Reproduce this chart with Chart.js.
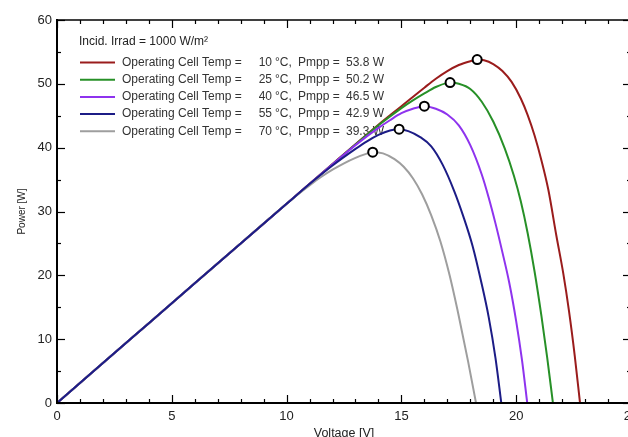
<!DOCTYPE html>
<html><head><meta charset="utf-8">
<script src="https://cdn.jsdelivr.net/npm/chart.js@4.4.1/dist/chart.umd.min.js"></script>
<style>
html,body{margin:0;padding:0;overflow:hidden;background:#fff;width:628px;height:437px}
#wrap{position:absolute;left:0;top:0;width:660px;height:437px}
</style>
</head><body><div id="wrap"><canvas id="c" width="660" height="437"></canvas></div>
<script>
const irradTitle = 'Incid. Irrad = 1000 W/m²';
const legendPrefix = 'Operating Cell Temp =';
const temps = [10, 25, 40, 55, 70];
const pmpp = [53.8, 50.2, 46.5, 42.9, 39.3];
const vmpp = [18.3, 17.12, 16.0, 14.9, 13.75];
const colors = ['#9a1c1c', '#279027', '#8e33ee', '#1c1c86', '#9e9e9e'];

const volt10 = [0, 2, 4, 6, 8, 10, 12, 14, 15, 16, 16.5, 17, 17.5, 18, 18.3, 18.6, 19.0, 19.4, 19.8, 20.2, 20.5, 20.8, 21.1, 21.4, 21.75, 22.05, 22.3, 22.55, 22.78];
const power10 = [0, 6.25, 12.5, 18.75, 25.0, 31.2, 37.45, 43.6, 46.5, 49.4, 50.8, 52.0, 52.95, 53.55, 53.8, 53.7, 53.1, 52.0, 50.3, 47.7, 45.1, 41.9, 38.0, 33.4, 26.2, 20.3, 14.4, 7.4, 0];

const volt25 = [0, 2, 4, 6, 8, 10, 12, 13, 14, 15, 15.5, 16, 16.5, 17, 17.12, 17.5, 18, 18.5, 19, 19.5, 19.9, 20.2, 20.5, 20.8, 21.1, 21.35, 21.6];
const power25 = [0, 6.25, 12.5, 18.75, 25.0, 31.2, 37.4, 40.5, 43.5, 46.2, 47.4, 48.5, 49.5, 50.15, 50.2, 50.0, 49.2, 47.2, 44.1, 39.9, 35.6, 31.6, 26.6, 20.6, 13.6, 7.1, 0];

const volt40 = [0, 2, 4, 6, 8, 10, 12, 13, 14, 14.5, 15, 15.5, 16, 16.5, 17, 17.5, 18, 18.5, 18.8, 19.1, 19.4, 19.7, 20.0, 20.25, 20.48];
const power40 = [0, 6.25, 12.5, 18.75, 25.0, 31.2, 37.4, 40.4, 43.1, 44.3, 45.4, 46.1, 46.5, 46.1, 45.2, 43.5, 40.4, 35.8, 32.2, 28.1, 23.6, 18.8, 12.8, 6.8, 0];

const volt55 = [0, 2, 4, 6, 8, 10, 11, 12, 13, 13.5, 14, 14.5, 14.9, 15.3, 15.8, 16.3, 16.8, 17.3, 17.7, 18.1, 18.5, 18.8, 19.1, 19.35];
const power55 = [0, 6.25, 12.5, 18.75, 25.0, 31.2, 34.3, 37.2, 39.8, 41.0, 42.0, 42.7, 42.9, 42.6, 41.7, 40.2, 37.3, 33.2, 29.2, 24.6, 18.6, 13.5, 7.0, 0];

const volt70 = [0, 2, 4, 6, 8, 10, 10.5, 11, 11.5, 12, 12.5, 13, 13.4, 13.75, 14.2, 14.7, 15.1, 15.5, 15.9, 16.3, 16.7, 17.1, 17.5, 17.9, 18.25];
const power70 = [0, 6.25, 12.5, 18.75, 25.0, 31.2, 32.7, 34.1, 35.4, 36.55, 37.55, 38.4, 38.95, 39.3, 39.1, 38.2, 37.0, 35.2, 32.7, 29.4, 25.3, 20.0, 13.6, 6.6, 0];

const xTickValues = [0, 5, 10, 15, 20, 25];
const yTickValues = [0, 10, 20, 30, 40, 50, 60];

const volts = [volt10, volt25, volt40, volt55, volt70];
const powers = [power10, power25, power40, power55, power70];

const FONT = "'Liberation Sans', Arial, sans-serif";

const curveSets = volts.map((vs, i) => ({
  type: 'line',
  label: legendPrefix + ' ' + temps[i] + ' °C, Pmpp = ' + pmpp[i].toFixed(1) + ' W',
  data: vs.map((v, k) => ({x: v, y: powers[i][k]})),
  borderColor: colors[i],
  borderWidth: 2,
  pointRadius: 0,
  cubicInterpolationMode: 'monotone',
  fill: false,
  order: i === 3 ? 1 : (i === 4 ? 2 : 10 - i)
}));

const mppSet = {
  type: 'scatter',
  label: 'MPP',
  data: vmpp.map((v, i) => ({x: v, y: pmpp[i]})),
  pointRadius: 4.5,
  pointBorderWidth: 2,
  pointBorderColor: '#000',
  pointBackgroundColor: '#fff',
  showLine: false,
  order: 0
};

const framePlugin = {
  id: 'frame',
  beforeDatasetsDraw(chart) {
    const ctx = chart.ctx;
    ctx.save();
    ctx.fillStyle = '#222';
    ctx.textBaseline = 'middle';
    ctx.font = '12px ' + FONT;
    ctx.fillText(irradTitle, 79, 42);
    for (let i = 0; i < temps.length; i++) {
      const y = 62.5 + i * 17.2;
      ctx.strokeStyle = colors[i];
      ctx.lineWidth = 2;
      ctx.beginPath(); ctx.moveTo(80, y); ctx.lineTo(115, y); ctx.stroke();
      ctx.fillStyle = '#333';
      ctx.textAlign = 'left';
      ctx.fillText(legendPrefix, 122, y);
      ctx.textAlign = 'right';
      ctx.fillText(String(temps[i]), 272, y);
      ctx.textAlign = 'left';
      ctx.fillText('°C,', 275, y);
      ctx.fillText('Pmpp =', 298, y);
      ctx.fillText(pmpp[i].toFixed(1) + ' W', 346, y);
    }
    ctx.restore();
  },
  afterDatasetsDraw(chart) {
    const {ctx, chartArea: a, scales: {x, y}} = chart;
    ctx.save();
    ctx.strokeStyle = '#000';
    ctx.lineWidth = 1.3;
    ctx.beginPath(); ctx.moveTo(a.left, a.top); ctx.lineTo(a.right, a.top); ctx.lineTo(a.right, a.bottom); ctx.stroke();
    ctx.lineWidth = 2;
    ctx.beginPath(); ctx.moveTo(a.left, a.top - 1); ctx.lineTo(a.left, a.bottom); ctx.lineTo(a.right, a.bottom); ctx.stroke();
    ctx.lineWidth = 1.2;
    for (let v = 0; v <= 25; v += 1) {
      const px = Math.round(x.getPixelForValue(v)) + 0.5;
      const len = v % 5 === 0 ? 8 : 4;
      ctx.beginPath(); ctx.moveTo(px, a.bottom); ctx.lineTo(px, a.bottom - len); ctx.stroke();
      ctx.beginPath(); ctx.moveTo(px, a.top); ctx.lineTo(px, a.top + len); ctx.stroke();
    }
    for (let p = 0; p <= 60; p += 5) {
      const py = Math.round(y.getPixelForValue(p)) + 0.5;
      const len = p % 10 === 0 ? 8 : 4;
      ctx.beginPath(); ctx.moveTo(a.left, py); ctx.lineTo(a.left + len, py); ctx.stroke();
      ctx.beginPath(); ctx.moveTo(a.right, py); ctx.lineTo(a.right - len, py); ctx.stroke();
    }
    ctx.restore();
  }
};

new Chart(document.getElementById('c'), {
  data: {datasets: [...curveSets, mppSet]},
  options: {
    responsive: false,
    animation: false,
    devicePixelRatio: 1,
    layout: {padding: {top: 20, right: 29, left: 0, bottom: 0}},
    plugins: {legend: {display: false}, tooltip: {enabled: false}},
    scales: {
      x: {
        type: 'linear', min: 0, max: 25,
        afterFit(s) { s.height = 34; },
        afterBuildTicks(s) { s.ticks = xTickValues.map(v => ({value: v})); },
        grid: {display: false, drawTicks: false},
        border: {display: false},
        ticks: {padding: 6, color: '#222', font: {family: FONT, size: 13}, maxRotation: 0, autoSkip: false},
        title: {display: true, text: 'Voltage [V]', color: '#222', font: {family: FONT, size: 12.5}, padding: {top: 0, bottom: -4}}
      },
      y: {
        type: 'linear', min: 0, max: 60,
        afterFit(s) { s.width = 57; },
        afterBuildTicks(s) { s.ticks = yTickValues.map(v => ({value: v})); },
        grid: {display: false, drawTicks: false},
        border: {display: false},
        ticks: {padding: 5, color: '#222', font: {family: FONT, size: 13}},
        title: {display: true, text: 'Power [W]', color: '#222', font: {family: FONT, size: 10}, padding: {top: 16, bottom: 0}}
      }
    }
  },
  plugins: [framePlugin]
});
</script>
</body></html>
